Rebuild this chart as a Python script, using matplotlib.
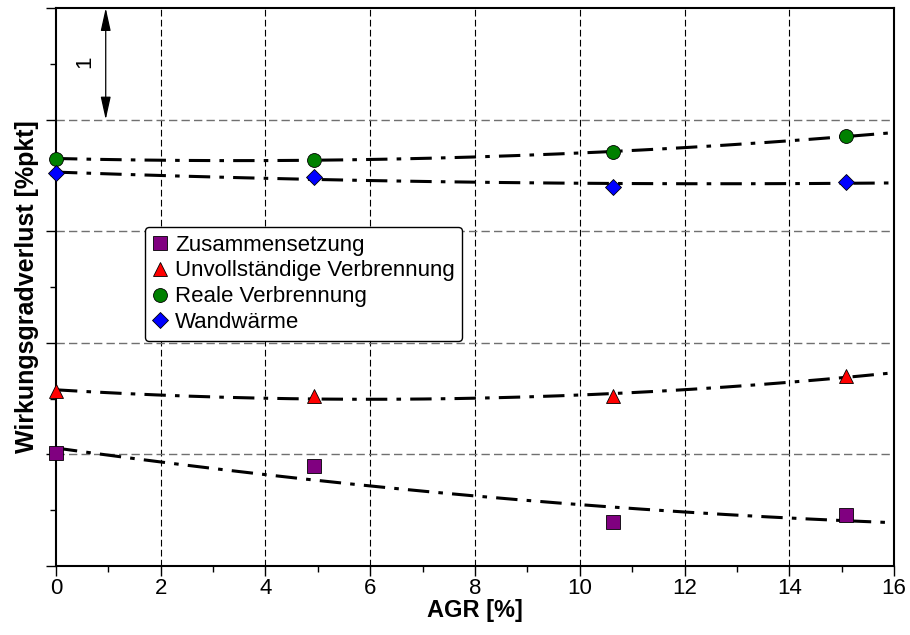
import numpy as np
import matplotlib.pyplot as plt

plt.rcParams["font.family"] = ["Liberation Sans", "DejaVu Sans"]

# AGR-Rate [%] und Wirkungsgradverluste (Skala relativ, 1 Teilung = 1 %pkt)
agr = [0.0, 4.93, 10.63, 15.08]
zusammensetzung = [1.01, 0.90, 0.39, 0.46]
unvollstaendig = [1.57, 1.52, 1.52, 1.70]
real = [3.65, 3.64, 3.71, 3.85]
wandwaerme = [3.52, 3.49, 3.40, 3.44]

serien = [
    ("Zusammensetzung", zusammensetzung, "s", "#800080", 9.5),
    ("Unvollständige Verbrennung", unvollstaendig, "^", "#ff0000", 10),
    ("Reale Verbrennung", real, "o", "#008000", 10),
    ("Wandwärme", wandwaerme, "D", "#0000ff", 8),
]

fig = plt.figure(figsize=(9.1, 6.35), dpi=100)
ax = fig.add_axes([0.0615, 0.1087, 0.921, 0.8787])

xs = np.linspace(0, 15.9, 200)
for name, werte, marker, farbe, ms in serien:
    koeff = np.polyfit(agr, werte, 2)
    ax.plot(xs, np.polyval(koeff, xs), color="black", lw=2.2,
            linestyle=(0, (7, 3, 1.5, 3)), zorder=3)
    ax.plot(agr, werte, linestyle="none", marker=marker, color=farbe,
            markersize=ms, markeredgecolor="black", markeredgewidth=0.6,
            label=name, zorder=4, clip_on=False)

ax.set_xlim(0, 16)
ax.set_ylim(0, 5)
ax.set_xticks(np.arange(0, 17, 2))
ax.set_xticks(np.arange(0, 17, 1), minor=True)
ax.set_yticks(np.arange(0, 6, 1))
ax.set_yticks(np.arange(0.5, 5, 1), minor=True)
ax.set_yticklabels([])
ax.tick_params(axis="both", which="major", direction="out", length=7, width=1,
               labelsize=16, pad=2)
ax.tick_params(axis="both", which="minor", direction="out", length=4, width=1)

for x in range(2, 16, 2):
    ax.axvline(x, color="black", lw=0.8, linestyle=(0, (6, 3)), zorder=1)
for y in range(1, 5):
    ax.axhline(y, color="#707070", lw=1.0, linestyle=(0, (6, 3)), zorder=1)

for s in ax.spines.values():
    s.set_linewidth(1.5)

# Massstab-Pfeil
ax.annotate("", xy=(0.95, 5.0), xytext=(0.95, 4.0),
            arrowprops=dict(arrowstyle="<|-|>,head_length=1.0,head_width=0.22",
                            color="black", lw=0.9, mutation_scale=14,
                            shrinkA=0, shrinkB=0))
ax.text(0.55, 4.52, "1", rotation=90, ha="center", va="center", fontsize=16)

ax.set_xlabel("AGR [%]", fontsize=17, fontweight="bold", labelpad=0)
ax.set_ylabel("Wirkungsgradverlust [%pkt]", fontsize=18, fontweight="bold",
              labelpad=3)

leg = ax.legend(loc="upper left", bbox_to_anchor=(0.106, 0.608), fontsize=16,
                handlelength=0.7, handletextpad=0.3, labelspacing=0.22,
                borderpad=0.35, borderaxespad=0, framealpha=1, fancybox=True,
                edgecolor="black")
leg.get_frame().set_linewidth(1.0)

fig.savefig("out.png", dpi=100)
